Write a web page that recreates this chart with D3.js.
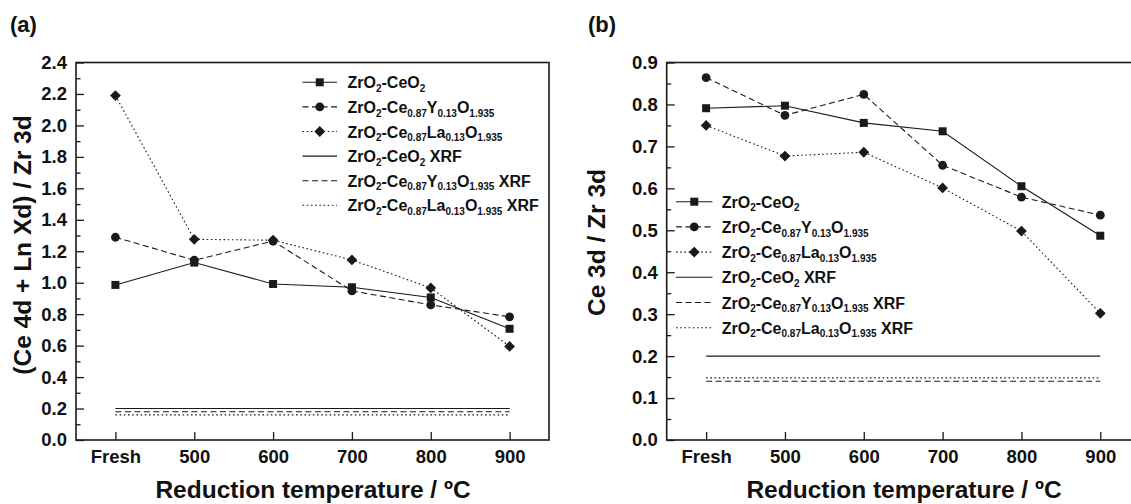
<!DOCTYPE html>
<html><head><meta charset="utf-8">
<script src="https://cdn.jsdelivr.net/npm/d3@7"></script>
<style>
body{margin:0;background:#fff}
svg{display:block}
text{font-family:"Liberation Sans",Arial,Helvetica,sans-serif;font-weight:bold;fill:#111}
</style>
</head><body>
<svg id="c" width="1131" height="504"></svg>
<script>
// ---------- data ----------
const categories = ["Fresh", "500", "600", "700", "800", "900"];

// panel (a): (Ce 4d + Ln Xd) / Zr 3d
const aCeO2 = [0.986, 1.128, 0.992, 0.971, 0.906, 0.707];
const aY    = [1.289, 1.143, 1.265, 0.948, 0.859, 0.783];
const aLa   = [2.190, 1.276, 1.270, 1.145, 0.967, 0.595];
const aXRF  = [0.200, 0.180, 0.160];   // CeO2, Y, La

// panel (b): Ce 3d / Zr 3d
const bCeO2 = [0.791, 0.797, 0.756, 0.736, 0.605, 0.487];
const bY    = [0.864, 0.774, 0.824, 0.655, 0.579, 0.536];
const bLa   = [0.750, 0.677, 0.686, 0.601, 0.498, 0.302];
const bXRF  = [0.200, 0.140, 0.148];

const aYTicks = [0.0, 0.2, 0.4, 0.6, 0.8, 1.0, 1.2, 1.4, 1.6, 1.8, 2.0, 2.2, 2.4];
const bYTicks = [0.0, 0.1, 0.2, 0.3, 0.4, 0.5, 0.6, 0.7, 0.8, 0.9];

// legend labels: [text, isSubscript]
const nameCeO2 = [["ZrO",0],["2",1],["-CeO",0],["2",1]];
const nameY    = [["ZrO",0],["2",1],["-Ce",0],["0.87",1],["Y",0],["0.13",1],["O",0],["1.935",1]];
const nameLa   = [["ZrO",0],["2",1],["-Ce",0],["0.87",1],["La",0],["0.13",1],["O",0],["1.935",1]];
const xrfSuffix = " XRF";

const xTitle = "Reduction temperature / \u00BAC";
const aYTitle = "(Ce 4d + Ln Xd) / Zr 3d";
const bYTitle = "Ce 3d / Zr 3d";

// ---------- styles ----------
const INK = "#1a1a1a";
const styles = [
  {dash: null, marker: "square"},
  {dash: "6,3.5", marker: "circle"},
  {dash: "1.6,2.6", marker: "diamond"}
];

const svg = d3.select("#c");

function marker(g, type, x, y) {
  if (type === "square") {
    g.append("rect").attr("x", x - 4).attr("y", y - 4).attr("width", 8).attr("height", 8).attr("fill", INK);
  } else if (type === "circle") {
    g.append("circle").attr("cx", x).attr("cy", y).attr("r", 4.4).attr("fill", INK);
  } else {
    const r = 5.4;
    g.append("path").attr("d", `M${x},${y - r}L${x + r},${y}L${x},${y + r}L${x - r},${y}Z`).attr("fill", INK);
  }
}

function richText(g, x, y, parts, suffix) {
  const t = g.append("text").attr("x", x).attr("y", y).attr("font-size", 16);
  let lowered = false;
  parts.forEach(([s, sub]) => {
    const ts = t.append("tspan").text(s);
    if (sub) { ts.attr("font-size", 10).attr("dy", lowered ? 0 : 3.6); lowered = true; }
    else { if (lowered) ts.attr("dy", -3.6); lowered = false; }
  });
  if (suffix) {
    const ts = t.append("tspan").text(suffix);
    if (lowered) ts.attr("dy", -3.6);
  }
}

function panel(cfg) {
  const g = svg.append("g");
  const x = d3.scalePoint().domain(categories).range([cfg.left, cfg.right]).padding(0.5);
  const y = d3.scaleLinear().domain(cfg.yDomain).range([cfg.bottom, cfg.top]);

  // y axis (ticks inward)
  const yAxis = d3.axisLeft(y).tickValues(cfg.yTicks).tickSize(-8).tickPadding(9)
    .tickFormat(d3.format(".1f"));
  const ya = g.append("g").attr("transform", `translate(${cfg.left},0)`).call(yAxis);
  ya.select(".domain").remove();
  ya.selectAll("line").attr("stroke", INK).attr("stroke-width", 1.3);
  ya.selectAll("text").attr("font-size", 18.5).attr("fill", INK)
    .attr("font-family", '"Liberation Sans",Arial,sans-serif').attr("font-weight", "bold");
  // minor y ticks
  const minorAxis = d3.axisLeft(y).tickValues(cfg.yMinor).tickSize(-4.5).tickFormat("");
  const ym = g.append("g").attr("transform", `translate(${cfg.left},0)`).call(minorAxis);
  ym.select(".domain").remove();
  ym.selectAll("line").attr("stroke", INK).attr("stroke-width", 1.3);

  // x axis (ticks inward)
  const xAxis = d3.axisBottom(x).tickSize(-8).tickPadding(10);
  const xa = g.append("g").attr("transform", `translate(0,${cfg.bottom})`).call(xAxis);
  xa.select(".domain").remove();
  xa.selectAll("line").attr("stroke", INK).attr("stroke-width", 1.3);
  xa.selectAll("text").attr("font-size", 18.5).attr("fill", INK)
    .attr("font-family", '"Liberation Sans",Arial,sans-serif').attr("font-weight", "bold");

  // frame
  g.append("rect").attr("x", cfg.left).attr("y", cfg.top)
    .attr("width", cfg.right - cfg.left).attr("height", cfg.bottom - cfg.top)
    .attr("fill", "none").attr("stroke", INK).attr("stroke-width", 1.6);

  // XRF reference lines
  cfg.xrf.forEach((v, i) => {
    g.append("line").attr("x1", x(categories[0])).attr("x2", x(categories[categories.length - 1]))
      .attr("y1", y(v)).attr("y2", y(v))
      .attr("stroke", INK).attr("stroke-width", 1.1)
      .attr("stroke-dasharray", styles[i].dash);
  });

  // series
  const line = d3.line().x((d, i) => x(categories[i])).y(d => y(d));
  cfg.series.forEach((s, i) => {
    g.append("path").datum(s).attr("d", line).attr("fill", "none")
      .attr("stroke", INK).attr("stroke-width", 1.1)
      .attr("stroke-dasharray", styles[i].dash);
  });
  cfg.series.forEach((s, i) => {
    s.forEach((v, j) => marker(g, styles[i].marker, x(categories[j]), y(v)));
  });

  // legend
  const names = [nameCeO2, nameY, nameLa];
  const L = cfg.legend;
  for (let k = 0; k < 6; k++) {
    const si = k % 3;
    const ly = L.y + k * L.dy;
    g.append("line").attr("x1", L.x1).attr("x2", L.x2).attr("y1", ly).attr("y2", ly)
      .attr("stroke", INK).attr("stroke-width", 1.1).attr("stroke-dasharray", styles[si].dash);
    if (k < 3) marker(g, styles[si].marker, (L.x1 + L.x2) / 2, ly);
    richText(g, L.tx, ly + 6, names[si], k >= 3 ? xrfSuffix : null);
  }

  // titles
  g.append("text").attr("x", cfg.xTitleX).attr("y", 497.5)
    .attr("text-anchor", "middle").attr("font-size", 24.5).text(xTitle);
  g.append("text").attr("transform", `translate(${cfg.ytx},${cfg.yty}) rotate(-90)`)
    .attr("text-anchor", "middle").attr("font-size", 24.5).text(cfg.yTitle);
  g.append("text").attr("x", cfg.labelX).attr("y", 32).attr("font-size", 22).text(cfg.label);
}

panel({
  left: 76, right: 549, top: 62.5, bottom: 440,
  yDomain: [0, 2.4], yTicks: aYTicks, yMinor: d3.range(0.1, 2.4, 0.2),
  series: [aCeO2, aY, aLa], xrf: aXRF,
  legend: {x1: 302.5, x2: 337, y: 82.3, dy: 24.6, tx: 347.5},
  yTitle: aYTitle, ytx: 31, yty: 245, label: "(a)", labelX: 10, xTitleX: 313
});
panel({
  left: 666.7, right: 1139.7, top: 62.5, bottom: 440,
  yDomain: [0, 0.9], yTicks: bYTicks, yMinor: d3.range(0.05, 0.9, 0.1),
  series: [bCeO2, bY, bLa], xrf: bXRF,
  legend: {x1: 676, x2: 712.5, y: 201.7, dy: 25.2, tx: 721.7},
  yTitle: bYTitle, ytx: 605, yty: 242.5, label: "(b)", labelX: 588, xTitleX: 904
});
</script>
</body></html>
